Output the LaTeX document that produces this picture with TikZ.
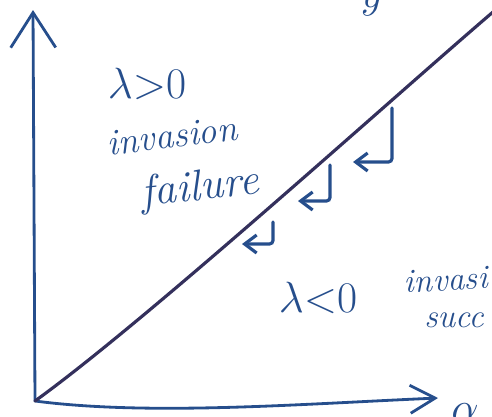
\documentclass[tikz,border=0pt]{standalone}
\usepackage{tikz}
\usetikzlibrary{arrows.meta,positioning}
\definecolor{inkblue}{RGB}{38,78,140}
\definecolor{inknavy}{RGB}{52,48,92}
\tikzset{
  axisline/.style = {
    inkblue,
    line width=1.6pt,
    line cap=round,
    line join=round
  },
  borderline/.style = {
    inknavy,
    line width=1.8pt,
    line cap=round
  },
  pusharrow/.style = {
    inkblue,
    line width=1.8pt,
    line cap=round,
    rounded corners=2pt,
    -{Straight Barb[length=2.4mm,width=3.6mm]}
  },
  handtext/.style = {
    inkblue,
    inner sep=0pt,
    font=\itshape\fontsize{21}{24}\selectfont
  },
  handmath/.style = {
    inkblue,
    inner sep=0pt,
    font=\fontsize{24}{28}\selectfont
  }
}

\begin{document}
\begin{tikzpicture}[x=0.02cm, y=-0.02cm]
    \useasboundingbox (0,0) rectangle (492,416);
    \clip (0,0) rectangle (492,416);
    % axes
    \coordinate (origin) at (35,401);
    \coordinate (ytip) at (33,10);
    \coordinate (xtip) at (438,398);
    \draw[axisline, -{Straight Barb[length=7mm,width=9mm]}] (origin) -- (ytip);
    \draw[axisline, -{Straight Barb[length=5mm,width=5.6mm]}] (origin) .. controls (150,416) and (300,404) .. (xtip);
    \node[handmath, anchor=north] (alab) at (465,403) {$\alpha$};
    \node[handmath, anchor=base, font=\fontsize{40}{44}\selectfont] (ylab) at (372,7) {$y$};
    % border between the two regions
    \coordinate (btop) at (500,6);
    \draw[borderline] (origin) .. controls (150,318) and (400,91) .. (btop);
    % push towards the border
    \coordinate (h1top) at (392,108);
    \coordinate (h1end) at (353,162);
    \coordinate (h2top) at (330,165);
    \coordinate (h2end) at (298,201);
    \coordinate (h3top) at (273,222);
    \coordinate (h3end) at (242,244);
    \draw[pusharrow] (h1top) |- (h1end);
    \draw[pusharrow] (h2top) |- (h2end);
    \draw[pusharrow] (h3top) |- (h3end);
    % region labels
    \node[handmath] (lampos) at (147,84) {$\lambda{>}0$};
    \node[handtext, rotate=7] (fail1) at (172,136) {invasion};
    \node[handtext, rotate=6, font=\itshape\fontsize{25}{28}\selectfont] (fail2) at (200,189) {failure};
    \node[handmath] (lamneg) at (318,298) {$\lambda{<}0$};
    \node[handtext, rotate=3, anchor=west, font=\itshape\fontsize{19}{22}\selectfont] (succ1) at (404,282) {invasi};
    \node[handtext, anchor=west, font=\itshape\fontsize{19}{22}\selectfont] (succ2) at (424,320) {succ};
\end{tikzpicture}
\end{document}
